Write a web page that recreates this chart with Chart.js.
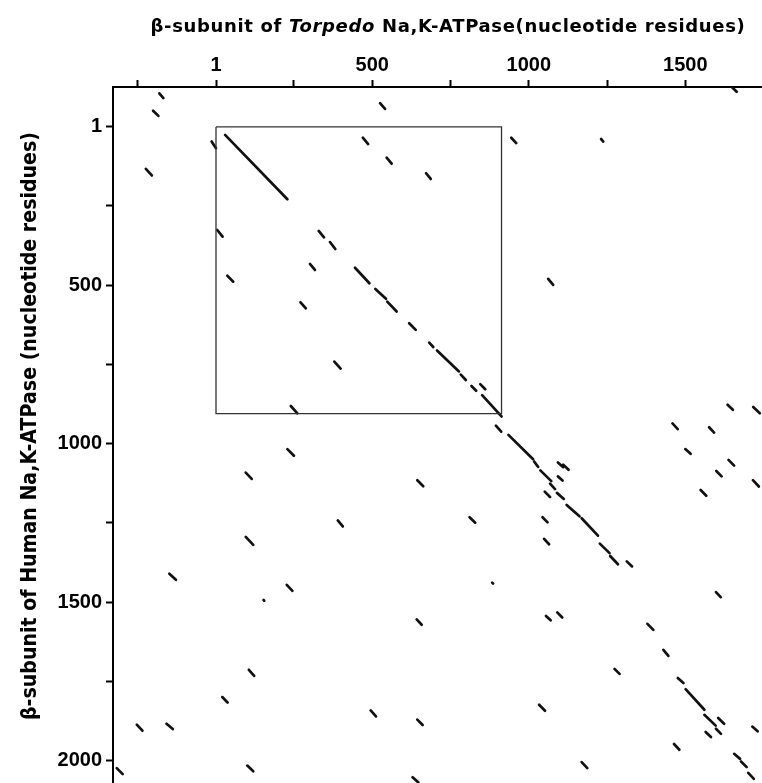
<!DOCTYPE html>
<html>
<head>
<meta charset="utf-8">
<script src="https://cdn.jsdelivr.net/npm/chart.js@4.4.1/dist/chart.umd.min.js"></script>
<style>
  html, body { margin: 0; padding: 0; background: #fff; overflow: hidden; }
  #wrap { width: 762px; height: 783px; position: relative; }
</style>
</head>
<body>
<div id="wrap"><canvas id="dotplot"></canvas></div>
<script>
// tick positions / labels (nucleotide residue numbers)
const xTicks = [-250, 1, 250, 500, 750, 1000, 1250, 1500];
const xTickLabels = ['', '1', '', '500', '', '1000', '', '1500'];
const yTicks = [1, 250, 500, 750, 1000, 1250, 1500, 1750, 2000];
const yTickLabels = ['1', '', '500', '', '1000', '', '1500', '', '2000'];

const xTitleParts = ['β-subunit of ', 'Torpedo', ' Na,K-ATPase(nucleotide residues)'];
const xTitleItalic = [false, true, false];
const yTitle = 'β-subunit of Human Na,K-ATPase (nucleotide residues)';

// boxed region (coding sequences)
const boxX = [1, 913, 913, 1, 1];
const boxY = [1, 1, 905, 905, 1];

// matching runs: start (x1,y1) and end (x2,y2); x = Torpedo, y = Human
const segX1 = [-180,-200,-223, 525, -13,  30, 470, 546, 672,   5, 329, 365, 301, 445, 510, 548,  37, 271, 618, 682,
                707, 783, 817, 845, 851, 895, 379, 240, 944,1231,1648,1062,1635,1717,1459,1576,1500,1638,1599,1716,
               1549, 935,1017,1037,1093,1110,1093,1068,1051,1090,1121,1169,1227,1260,1313, 644, 811,1044,1049, 883,
               1598, 642,1055,1091,1379,1430,1274,1476,1501,1561,1605,1565,1598,1714,1464,1033,1169,1656,1678,1701,
                229,  96, 390,  96,-148, 227, 153, 106,  21, 495, 644,-252,-157,-316, 101, 629];
const segY1 = [-105, -50, 133, -74,  47,  26,  35,  98, 147, 326, 329, 364, 433, 445, 512, 552, 470, 554, 620, 681,
                706, 782, 818, 812, 847, 943, 741, 881,  35,  39,-126, 480, 877, 884, 936, 948,1017,1051,1086,1115,
               1146, 972,1056,1084,1059,1066,1103,1126,1151,1155,1193,1235,1315,1354,1371,1115,1232,1232,1300,1438,
               1468,1554,1543,1532,1568,1650,1710,1739,1774,1855,1865,1909,1899,1892,1947,1823,2004,1978,2002,2038,
               1017,1091,1242,1294,1410,1445,1493,1713,1799,1841,1870,1886,1883,2023,2015,2052];
const segX2 = [-167,-183,-204, 541,   1, 229, 487, 562, 687,  22, 346, 382, 317, 491, 544, 578,  56, 288, 639, 695,
                777, 799, 832, 861, 913, 912, 399, 261, 960,1238,1664,1078,1652,1738,1476,1592,1517,1656,1616,1735,
               1567,1014,1030,1072,1110,1127,1108,1084,1068,1112,1162,1221,1258,1285,1330, 663, 829,1060,1065, 886,
               1613, 658,1070,1107,1398,1446,1290,1494,1561,1597,1624,1582,1614,1731,1481,1052,1187,1675,1696,1719,
                250, 115, 406, 120,-127, 245, 155, 123,  38, 512, 661,-234,-137,-297, 120, 647];
const segY2 = [ -90, -34, 154, -56,  68, 229,  55, 117, 165, 347, 349, 386, 452, 494, 543, 583, 489, 573, 641, 695,
                772, 799, 833, 828, 914, 962, 763, 904,  52,  47,-110, 499, 893, 904, 954, 965,1032,1069,1103,1135,
               1164,1049,1073,1118,1074,1082,1116,1143,1168,1174,1229,1290,1345,1380,1387,1134,1249,1248,1317,1441,
               1484,1571,1557,1548,1587,1669,1726,1755,1839,1889,1883,1925,1915,1907,1965,1842,2023,1994,2020,2057,
               1038,1111,1261,1319,1429,1464,1495,1732,1816,1860,1887,1905,1900,2042,2033,2068];

const segDatasets = segX1.map((x, i) => ({
  data: [{ x: x, y: segY1[i] }, { x: segX2[i], y: segY2[i] }],
  showLine: true,
  borderColor: '#111',
  borderWidth: 2.7,
  borderCapStyle: 'round',
  pointRadius: 0
}));

const boxDataset = {
  data: boxX.map((x, i) => ({ x: x, y: boxY[i] })),
  showLine: true,
  borderColor: '#333',
  borderWidth: 1.3,
  pointRadius: 0
};

const axisTitles = {
  id: 'axisTitles',
  afterDraw(chart) {
    const ctx = chart.ctx;
    ctx.save();
    ctx.fillStyle = '#000';
    ctx.textBaseline = 'alphabetic';
    ctx.textAlign = 'left';
    // top title, with italic genus name
    ctx.letterSpacing = '0.65px';
    const fonts = xTitleItalic.map(it => (it ? 'italic ' : '') + 'bold 18px "DejaVu Sans"');
    let total = 0;
    const widths = xTitleParts.map((t, i) => {
      ctx.font = fonts[i];
      const w = ctx.measureText(t).width;
      total += w;
      return w;
    });
    let x = 448 - total / 2;
    xTitleParts.forEach((t, i) => {
      ctx.font = fonts[i];
      ctx.fillText(t, x, 32);
      x += widths[i];
    });
    // left title, rotated and squeezed along its length
    ctx.letterSpacing = '0px';
    ctx.font = 'bold 22px "DejaVu Sans"';
    const w = ctx.measureText(yTitle).width;
    ctx.translate(36, 426);
    ctx.rotate(-Math.PI / 2);
    ctx.scale(588 / w, 1);
    ctx.textAlign = 'center';
    ctx.fillText(yTitle, 0, 0);
    ctx.restore();
  }
};

new Chart(document.getElementById('dotplot'), {
  type: 'scatter',
  data: { datasets: [boxDataset, ...segDatasets] },
  options: {
    responsive: true,
    maintainAspectRatio: false,
    animation: false,
    layout: { padding: 0 },
    plugins: { legend: { display: false }, tooltip: { enabled: false }, title: { display: false } },
    scales: {
      x: {
        type: 'linear', position: 'top', min: -328, max: 1745,
        afterBuildTicks: s => { s.ticks = xTicks.map(v => ({ value: v })); },
        afterFit: s => { s.height = 87; s.paddingLeft = 0; s.paddingRight = 0; },
        ticks: {
          autoSkip: false, maxRotation: 0, padding: 3, color: '#000',
          font: { family: '"Liberation Sans"', size: 20, weight: 'bold' },
          callback: (v, i) => xTickLabels[i]
        },
        grid: { drawOnChartArea: false, drawTicks: true, tickLength: 7, tickWidth: 2, tickColor: '#000' },
        border: { display: true, color: '#000', width: 2 }
      },
      y: {
        type: 'linear', position: 'left', reverse: true, min: -125, max: 2070,
        afterBuildTicks: s => { s.ticks = yTicks.map(v => ({ value: v })); },
        afterFit: s => { s.width = 113; s.paddingTop = 0; s.paddingBottom = 0; },
        ticks: {
          autoSkip: false, padding: 4, color: '#000',
          font: { family: '"Liberation Sans"', size: 20, weight: 'bold' },
          callback: (v, i) => yTickLabels[i]
        },
        grid: { drawOnChartArea: false, drawTicks: true, tickLength: 7, tickWidth: 2, tickColor: '#000' },
        border: { display: true, color: '#000', width: 2 }
      }
    }
  },
  plugins: [axisTitles]
});
</script>
</body>
</html>
